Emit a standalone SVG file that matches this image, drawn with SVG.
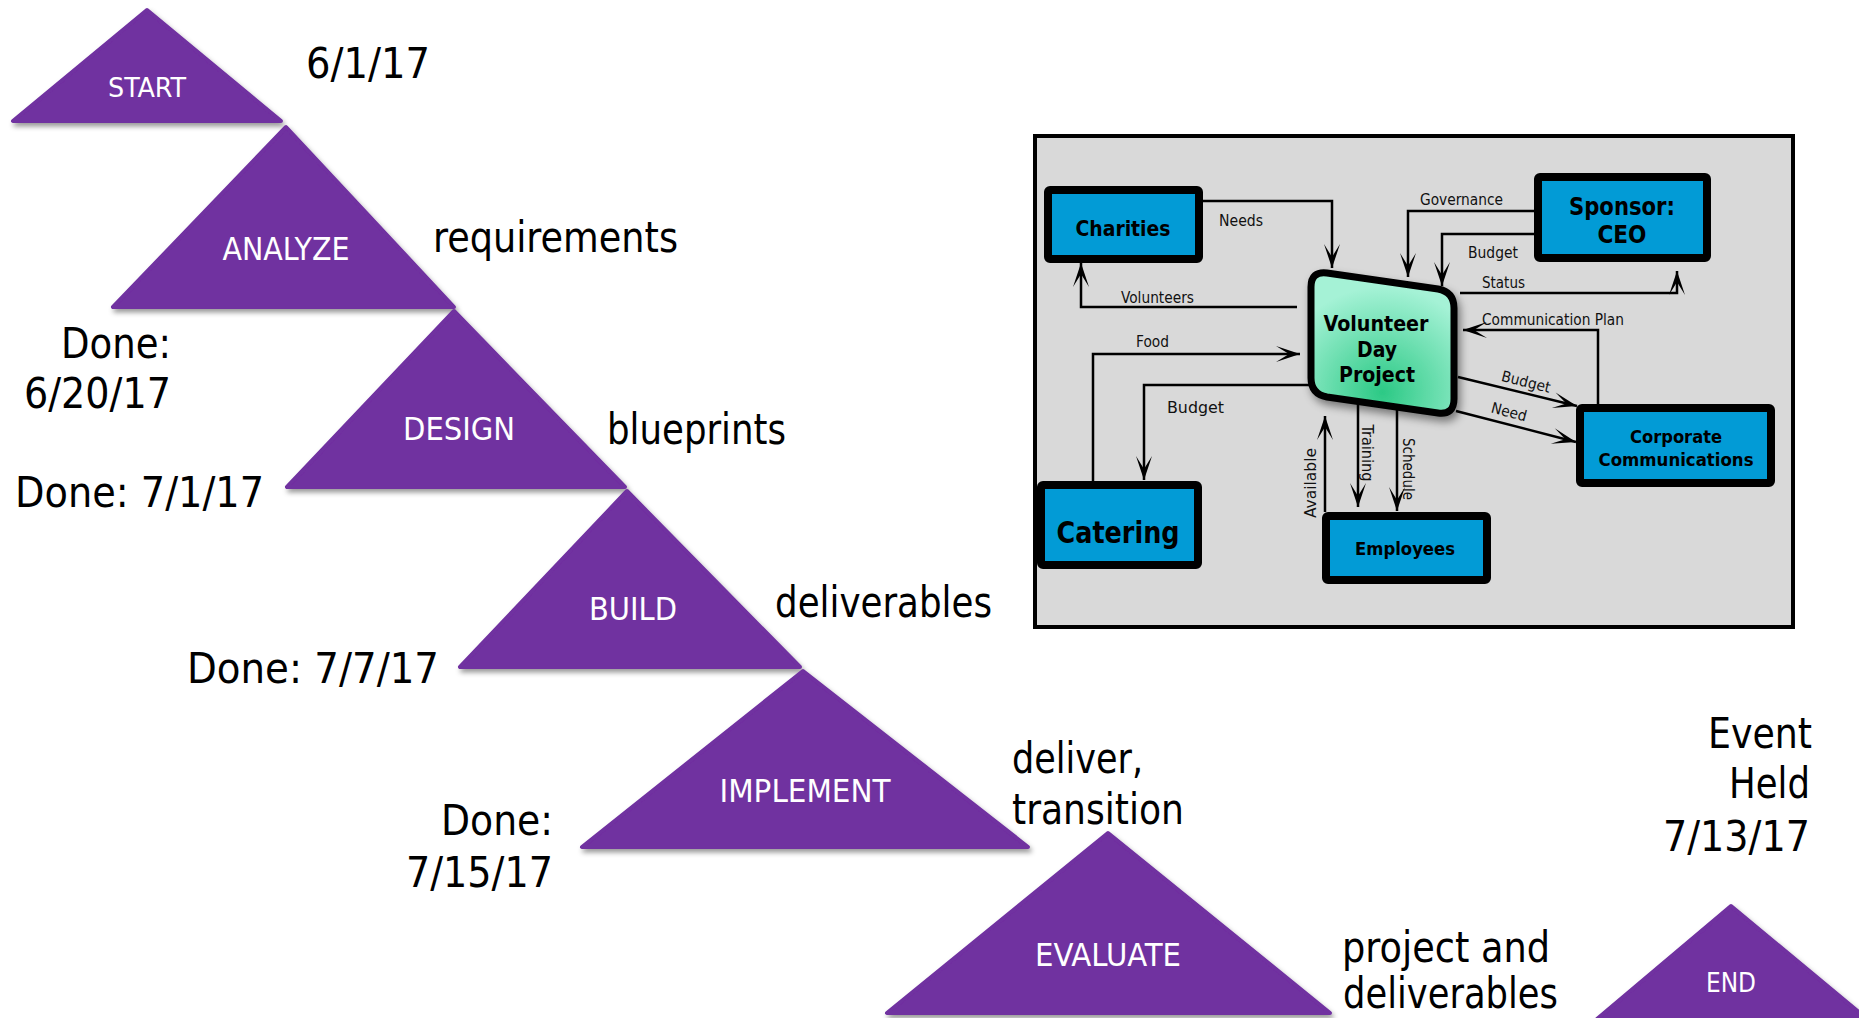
<svg xmlns="http://www.w3.org/2000/svg" width="1859" height="1018" viewBox="0 0 1859 1018">
  <style>
    .tri { fill: #7030A0; stroke: #7030A0; stroke-width: 4; stroke-linejoin: round; filter: url(#triShadow); }
    .phase { font-family: "DejaVu Sans Condensed", "DejaVu Sans", Verdana, sans-serif; fill: #ffffff; text-anchor: middle; }
    .note { font-family: "DejaVu Sans Condensed", "DejaVu Sans", Verdana, sans-serif; fill: #000000; font-size: 42px; }
    .box { fill: #029BD6; stroke: #000000; stroke-width: 8; }
    .boxtxt { font-family: "DejaVu Sans Condensed", "DejaVu Sans", Verdana, sans-serif; font-weight: bold; fill: #000000; text-anchor: middle; }
    .flow { fill: none; stroke: #000000; stroke-width: 2.5; marker-end: url(#barb); }
    .lbl { font-family: "DejaVu Sans Condensed", "DejaVu Sans", Verdana, sans-serif; font-size: 15px; fill: #111111; }
  </style>
  <defs>
    <filter id="triShadow" x="-10%" y="-10%" width="125%" height="130%">
      <feDropShadow dx="2" dy="3.5" stdDeviation="2.5" flood-color="#000000" flood-opacity="0.4"/>
    </filter>
    <filter id="procShadow" x="-20%" y="-20%" width="145%" height="145%">
      <feDropShadow dx="3" dy="5" stdDeviation="4" flood-color="#000000" flood-opacity="0.45"/>
    </filter>
    <radialGradient id="procFill" cx="0.5" cy="0.85" r="0.75">
      <stop offset="0" stop-color="#2CC985"/>
      <stop offset="1" stop-color="#A5F2D6"/>
    </radialGradient>
    <marker id="barb" viewBox="-26 -10 28 20" refX="0" refY="0" markerWidth="28" markerHeight="20" markerUnits="userSpaceOnUse" orient="auto">
      <path d="M0,0 L-24,-8 L-11,0 L-24,8 Z" fill="#000000"/>
    </marker>
  </defs>

  <!-- Phase staircase -->
  <g id="phase-start">
    <polygon class="tri" points="147,10 13,121 281,121"/>
    <text class="phase" x="147" y="97" font-size="27" textLength="78" lengthAdjust="spacingAndGlyphs">START</text>
  </g>
  <g id="phase-analyze">
    <polygon class="tri" points="286,127 113,307 454,307"/>
    <text class="phase" x="286" y="260" font-size="32" textLength="127" lengthAdjust="spacingAndGlyphs">ANALYZE</text>
  </g>
  <g id="phase-design">
    <polygon class="tri" points="454,311 287,487 625,487"/>
    <text class="phase" x="459" y="440" font-size="32" textLength="112" lengthAdjust="spacingAndGlyphs">DESIGN</text>
  </g>
  <g id="phase-build">
    <polygon class="tri" points="627,491 460,667 800,667"/>
    <text class="phase" x="633" y="620" font-size="32" textLength="88" lengthAdjust="spacingAndGlyphs">BUILD</text>
  </g>
  <g id="phase-implement">
    <polygon class="tri" points="803,671 582,847 1028,847"/>
    <text class="phase" x="805" y="802" font-size="32" textLength="171" lengthAdjust="spacingAndGlyphs">IMPLEMENT</text>
  </g>
  <g id="phase-evaluate">
    <polygon class="tri" points="1108,833 887,1013 1330,1013"/>
    <text class="phase" x="1108" y="966" font-size="32" textLength="146" lengthAdjust="spacingAndGlyphs">EVALUATE</text>
  </g>
  <g id="phase-end">
    <polygon class="tri" points="1731,906 1597,1019 1867,1019"/>
    <text class="phase" x="1731" y="992" font-size="27" textLength="50" lengthAdjust="spacingAndGlyphs">END</text>
  </g>

  <!-- Milestone notes -->
  <g id="notes">
    <text class="note" x="306" y="78" textLength="124" lengthAdjust="spacingAndGlyphs">6/1/17</text>
    <text class="note" x="433" y="252" textLength="245" lengthAdjust="spacingAndGlyphs">requirements</text>
    <text class="note" x="61" y="358" textLength="110" lengthAdjust="spacingAndGlyphs">Done:</text>
    <text class="note" x="24" y="408" textLength="147" lengthAdjust="spacingAndGlyphs">6/20/17</text>
    <text class="note" x="607" y="444" textLength="179" lengthAdjust="spacingAndGlyphs">blueprints</text>
    <text class="note" x="15" y="507" textLength="249" lengthAdjust="spacingAndGlyphs">Done: 7/1/17</text>
    <text class="note" x="775" y="617" textLength="217" lengthAdjust="spacingAndGlyphs">deliverables</text>
    <text class="note" x="187" y="683" textLength="252" lengthAdjust="spacingAndGlyphs">Done: 7/7/17</text>
    <text class="note" x="1012" y="773" textLength="131" lengthAdjust="spacingAndGlyphs">deliver,</text>
    <text class="note" x="1012" y="824" textLength="172" lengthAdjust="spacingAndGlyphs">transition</text>
    <text class="note" x="441" y="835" textLength="112" lengthAdjust="spacingAndGlyphs">Done:</text>
    <text class="note" x="406" y="887" textLength="147" lengthAdjust="spacingAndGlyphs">7/15/17</text>
    <text class="note" x="1342" y="962" font-size="40" textLength="208" lengthAdjust="spacingAndGlyphs">project and</text>
    <text class="note" x="1343" y="1008" font-size="40" textLength="215" lengthAdjust="spacingAndGlyphs">deliverables</text>
    <text class="note" x="1708" y="748" textLength="104" lengthAdjust="spacingAndGlyphs">Event</text>
    <text class="note" x="1729" y="798" textLength="81" lengthAdjust="spacingAndGlyphs">Held</text>
    <text class="note" x="1663" y="851" textLength="147" lengthAdjust="spacingAndGlyphs">7/13/17</text>
  </g>

  <!-- Context diagram panel -->
  <rect id="panel" x="1035" y="136" width="758" height="491" fill="#D9D9D9" stroke="#000000" stroke-width="4"/>

  <g id="connectors">
    <path class="flow" d="M1203,201 H1332 V268"/>
    <path class="flow" d="M1297,307 H1081 V263"/>
    <path class="flow" d="M1093,481 V354 H1300"/>
    <path class="flow" d="M1310,385 H1144 V480"/>
    <path class="flow" d="M1534,211 H1408 V277"/>
    <path class="flow" d="M1534,234 H1442 V286"/>
    <path class="flow" d="M1460,293 H1677 V271"/>
    <path class="flow" d="M1598,404 V330 H1463"/>
    <path class="flow" d="M1458,377 L1577,406"/>
    <path class="flow" d="M1456,411 L1576,442"/>
    <path class="flow" d="M1325,512 V416"/>
    <path class="flow" d="M1358,404 V507"/>
    <path class="flow" d="M1397,410 V511"/>

    <text class="lbl" x="1219" y="226" textLength="44" lengthAdjust="spacingAndGlyphs">Needs</text>
    <text class="lbl" x="1121" y="303" textLength="73" lengthAdjust="spacingAndGlyphs">Volunteers</text>
    <text class="lbl" x="1136" y="347" textLength="33" lengthAdjust="spacingAndGlyphs">Food</text>
    <text class="lbl" x="1167" y="413" textLength="57" lengthAdjust="spacingAndGlyphs">Budget</text>
    <text class="lbl" x="1420" y="205" textLength="83" lengthAdjust="spacingAndGlyphs">Governance</text>
    <text class="lbl" x="1468" y="258" textLength="50" lengthAdjust="spacingAndGlyphs">Budget</text>
    <text class="lbl" x="1482" y="288" textLength="43" lengthAdjust="spacingAndGlyphs">Status</text>
    <text class="lbl" x="1482" y="325" textLength="142" lengthAdjust="spacingAndGlyphs">Communication Plan</text>
    <text class="lbl" text-anchor="middle" dominant-baseline="central" transform="translate(1526,382) rotate(14)" textLength="50" lengthAdjust="spacingAndGlyphs">Budget</text>
    <text class="lbl" text-anchor="middle" dominant-baseline="central" transform="translate(1509,412) rotate(14.7)" textLength="36" lengthAdjust="spacingAndGlyphs">Need</text>
    <text class="lbl" text-anchor="middle" dominant-baseline="central" transform="translate(1311,483) rotate(-90)" textLength="70" lengthAdjust="spacingAndGlyphs">Available</text>
    <text class="lbl" text-anchor="middle" dominant-baseline="central" transform="translate(1367,453) rotate(90)" textLength="57" lengthAdjust="spacingAndGlyphs">Training</text>
    <text class="lbl" text-anchor="middle" dominant-baseline="central" transform="translate(1408,469) rotate(90)" textLength="62" lengthAdjust="spacingAndGlyphs">Schedule</text>
  </g>

  <g id="node-charities">
    <rect class="box" x="1048" y="190" width="151" height="69" rx="2"/>
    <text class="boxtxt" x="1123" y="236" font-size="22" textLength="95" lengthAdjust="spacingAndGlyphs">Charities</text>
  </g>
  <g id="node-sponsor">
    <rect class="box" x="1538" y="177" width="169" height="81" rx="2"/>
    <text class="boxtxt" x="1622" y="215" font-size="25" textLength="106" lengthAdjust="spacingAndGlyphs">Sponsor:</text>
    <text class="boxtxt" x="1622" y="243" font-size="25" textLength="49" lengthAdjust="spacingAndGlyphs">CEO</text>
  </g>
  <g id="node-corporate-communications">
    <rect class="box" x="1580" y="408" width="191" height="75" rx="2"/>
    <text class="boxtxt" x="1676" y="443" font-size="18" textLength="92" lengthAdjust="spacingAndGlyphs">Corporate</text>
    <text class="boxtxt" x="1676" y="466" font-size="18" textLength="155" lengthAdjust="spacingAndGlyphs">Communications</text>
  </g>
  <g id="node-catering">
    <rect class="box" x="1041" y="485" width="157" height="80" rx="2"/>
    <text class="boxtxt" x="1118" y="543" font-size="30" textLength="123" lengthAdjust="spacingAndGlyphs">Catering</text>
  </g>
  <g id="node-employees">
    <rect class="box" x="1326" y="516" width="161" height="64" rx="2"/>
    <text class="boxtxt" x="1405" y="555" font-size="18" textLength="100" lengthAdjust="spacingAndGlyphs">Employees</text>
  </g>
  <g id="node-volunteer-day-project">
    <path d="M1311,287 Q1311,271 1327,273 L1438,289 Q1454,292 1454,308 L1454,399 Q1454,415 1438,413 L1327,397 Q1311,394 1311,378 Z" fill="url(#procFill)" stroke="#000000" stroke-width="7" stroke-linejoin="round" filter="url(#procShadow)"/>
    <text class="boxtxt" x="1376" y="331" font-size="21" textLength="105" lengthAdjust="spacingAndGlyphs">Volunteer</text>
    <text class="boxtxt" x="1377" y="357" font-size="21" textLength="40" lengthAdjust="spacingAndGlyphs">Day</text>
    <text class="boxtxt" x="1377" y="382" font-size="21" textLength="76" lengthAdjust="spacingAndGlyphs">Project</text>
  </g>
</svg>
